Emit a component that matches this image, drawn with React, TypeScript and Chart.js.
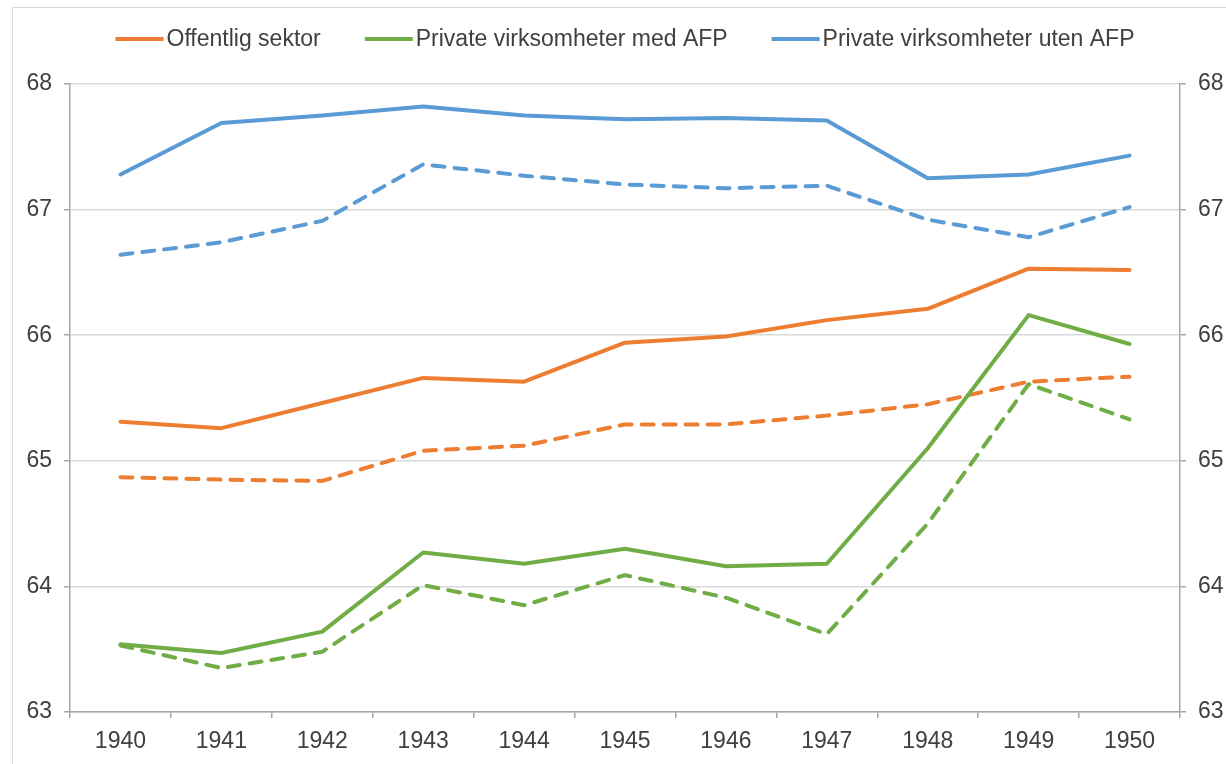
import React, { useEffect, useRef } from "react";
import { Chart, registerables } from "chart.js";

Chart.register(...registerables);

const years = ["1940", "1941", "1942", "1943", "1944", "1945", "1946", "1947", "1948", "1949", "1950"];

const offentligSolid = [65.31, 65.26, 65.46, 65.66, 65.63, 65.94, 65.99, 66.12, 66.21, 66.53, 66.52];
const offentligDashed = [64.87, 64.85, 64.84, 65.08, 65.12, 65.29, 65.29, 65.36, 65.45, 65.63, 65.67];
const medAfpSolid = [63.54, 63.47, 63.64, 64.27, 64.18, 64.30, 64.16, 64.18, 65.10, 66.16, 65.93];
const medAfpDashed = [63.53, 63.35, 63.48, 64.01, 63.85, 64.09, 63.91, 63.62, 64.50, 65.61, 65.33];
const utenAfpSolid = [67.28, 67.69, 67.75, 67.82, 67.75, 67.72, 67.73, 67.71, 67.25, 67.28, 67.43];
const utenAfpDashed = [66.64, 66.74, 66.91, 67.36, 67.27, 67.20, 67.17, 67.19, 66.92, 66.78, 67.02];

const labels = ["Offentlig sektor", "Private virksomheter med AFP", "Private virksomheter uten AFP"];
const colors = ["#ED7D31", "#70AD47", "#5B9BD5"];

const FONT = '"Liberation Sans", Arial, sans-serif';
const FONT_SIZE = 23;
const TEXT_COLOR = "#404040";
const GRID_COLOR = "#d9d9d9";
const AXIS_COLOR = "#a6a6a6";

const lineLegend = {
  id: "lineLegend",
  afterDraw(chart: any) {
    const ctx = chart.ctx as CanvasRenderingContext2D;
    ctx.save();
    ctx.font = `${FONT_SIZE}px ${FONT}`;
    const lineLen = 48;
    const gap = 3;
    const spacing = 44;
    const widths = labels.map((l) => lineLen + gap + ctx.measureText(l).width);
    const total = widths.reduce((a, b) => a + b, 0) + spacing * (widths.length - 1);
    let x = (chart.chartArea.left + chart.chartArea.right) / 2 - total / 2;
    const y = 39;
    labels.forEach((l, i) => {
      ctx.strokeStyle = colors[i];
      ctx.lineWidth = 4;
      ctx.lineCap = "butt";
      ctx.beginPath();
      ctx.moveTo(x, y);
      ctx.lineTo(x + lineLen, y);
      ctx.stroke();
      ctx.fillStyle = TEXT_COLOR;
      ctx.textBaseline = "middle";
      ctx.textAlign = "left";
      ctx.fillText(l, x + lineLen + gap, y + 1);
      x += widths[i] + spacing;
    });
    ctx.restore();
  },
};

function solid(label: string, data: number[], color: string) {
  return {
    label,
    data,
    borderColor: color,
    backgroundColor: color,
    borderWidth: 4,
    pointRadius: 0,
    tension: 0,
    fill: false,
    borderJoinStyle: "round" as const,
    borderCapStyle: "round" as const,
  };
}

function dashed(label: string, data: number[], color: string) {
  return {
    label,
    data,
    borderColor: color,
    backgroundColor: color,
    borderWidth: 4,
    borderDash: [12, 10],
    pointRadius: 0,
    tension: 0,
    fill: false,
    borderJoinStyle: "round" as const,
    borderCapStyle: "round" as const,
  };
}

function yAxis(position: "left" | "right", onArea: boolean) {
  return {
    type: "linear" as const,
    position,
    min: 63,
    max: 68,
    afterFit: (scale: any) => {
      scale.width = 44;
    },
    ticks: {
      stepSize: 1,
      color: TEXT_COLOR,
      font: { family: FONT, size: FONT_SIZE },
      padding: 12,
    },
    grid: {
      drawOnChartArea: onArea,
      color: GRID_COLOR,
      lineWidth: 1.5,
      tickColor: AXIS_COLOR,
      tickLength: 6,
    },
    border: { color: AXIS_COLOR, width: 1.5 },
  };
}

export default function App() {
  const ref = useRef<HTMLCanvasElement | null>(null);

  useEffect(() => {
    if (!ref.current) return;
    const chart = new Chart(ref.current, {
      type: "line",
      data: {
        labels: years,
        datasets: [
          solid(labels[0], offentligSolid, colors[0]),
          solid(labels[1], medAfpSolid, colors[1]),
          solid(labels[2], utenAfpSolid, colors[2]),
          dashed(labels[0] + " (stiplet)", offentligDashed, colors[0]),
          dashed(labels[1] + " (stiplet)", medAfpDashed, colors[1]),
          dashed(labels[2] + " (stiplet)", utenAfpDashed, colors[2]),
        ],
      },
      options: {
        responsive: false,
        animation: false,
        layout: { padding: { top: 84, left: 26, right: 2, bottom: 10 } },
        plugins: {
          legend: { display: false },
          tooltip: { enabled: false },
        },
        scales: {
          x: {
            offset: true,
            afterFit: (scale: any) => {
              scale.height = 42;
            },
            ticks: {
              color: TEXT_COLOR,
              font: { family: FONT, size: FONT_SIZE },
              padding: 10,
              maxRotation: 0,
            },
            grid: {
              offset: true,
              drawOnChartArea: false,
              tickColor: AXIS_COLOR,
              tickLength: 6,
              lineWidth: 1.5,
            },
            border: { color: AXIS_COLOR, width: 1.5 },
          },
          y: yAxis("left", true),
          y2: yAxis("right", false),
        },
      },
      plugins: [lineLegend],
    });
    return () => chart.destroy();
  }, []);

  return (
    <div style={{ position: "fixed", left: 0, top: 0, width: 1226, height: 764, background: "#fff" }}>
      <div
        style={{
          position: "absolute",
          left: 12,
          top: 7,
          right: 0,
          bottom: 0,
          borderLeft: `1.5px solid ${GRID_COLOR}`,
          borderTop: `1.5px solid ${GRID_COLOR}`,
        }}
      />
      <canvas ref={ref} width={1226} height={764} style={{ position: "absolute", left: 0, top: 0 }} />
    </div>
  );
}
